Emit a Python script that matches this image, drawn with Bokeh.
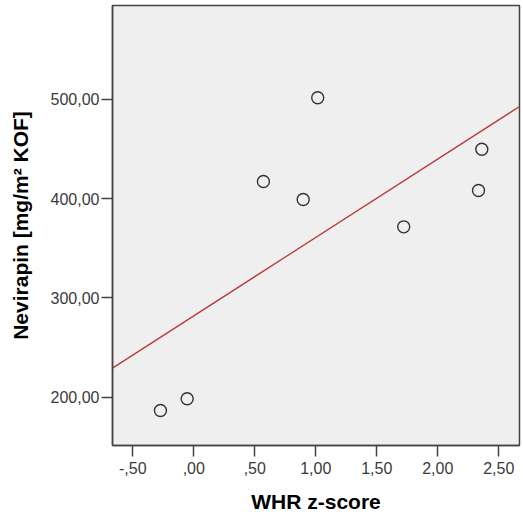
import numpy as np
from bokeh.plotting import figure
from bokeh.models import FixedTicker, ColumnDataSource, Range1d
from bokeh.embed import file_html
from bokeh.resources import INLINE

# Data
whr_z = [1.016, 2.361, 0.571, 2.334, 0.897, 1.721, -0.054, -0.273]
nevirapin = [501.4, 449.6, 417.1, 408.1, 399.0, 371.5, 198.5, 186.6]

x_ticks = [-0.5, 0.0, 0.5, 1.0, 1.5, 2.0, 2.5]
x_tick_labels = ["-,50", ",00", ",50", "1,00", "1,50", "2,00", "2,50"]
y_ticks = [200, 300, 400, 500]
y_tick_labels = ["200,00", "300,00", "400,00", "500,00"]

x_lo, x_hi = -0.666, 2.67
y_lo, y_hi = 151.4, 594.3

p = figure(width=523, height=515, output_backend="svg", toolbar_location=None,
           x_range=Range1d(x_lo, x_hi), y_range=Range1d(y_lo, y_hi),
           min_border_left=112, min_border_right=4, min_border_top=5,
           min_border_bottom=70)

p.background_fill_color = "#efefef"
p.border_fill_color = "white"
p.outline_line_color = "#444444"
p.outline_line_width = 1.5
p.grid.visible = False

# Linear fit line
slope, intercept = np.polyfit(whr_z, nevirapin, 1)
fx = [x_lo, x_hi]
fy = [intercept + slope * v for v in fx]
p.line(fx, fy, line_color="#b83a3a", line_width=1.3)

src = ColumnDataSource(dict(x=whr_z, y=nevirapin))
p.scatter("x", "y", source=src, size=12, marker="circle", fill_color=None,
          line_color="#333333", line_width=1.4)

FONT = "Liberation Sans"
for ax in (p.xaxis[0], p.yaxis[0]):
    ax.axis_line_color = "#444444"
    ax.axis_line_width = 1.5
    ax.major_tick_line_color = "#444444"
    ax.major_tick_line_width = 1.5
    ax.major_tick_in = 0
    ax.major_tick_out = 11
    ax.minor_tick_line_color = None
    ax.major_label_text_font = FONT
    ax.major_label_text_font_size = "16px"
    ax.major_label_text_color = "#3a3a3a"
    ax.axis_label_text_font = FONT
    ax.axis_label_text_font_style = "bold"
    ax.axis_label_text_font_size = "21px"
    ax.axis_label_text_color = "black"

p.xaxis.ticker = FixedTicker(ticks=x_ticks)
p.yaxis.ticker = FixedTicker(ticks=y_ticks)
p.xaxis.major_label_overrides = {t: l for t, l in zip(x_ticks, x_tick_labels)}
p.yaxis.major_label_overrides = {t: l for t, l in zip(y_ticks, y_tick_labels)}
p.xaxis.major_label_standoff = 5
p.yaxis.major_label_standoff = 2
p.xaxis.axis_label = "WHR z-score"
p.yaxis.axis_label = "Nevirapin [mg/m² KOF]"
p.xaxis.axis_label_standoff = 13
p.yaxis.axis_label_standoff = 16

open("out.html", "w").write(file_html(p, INLINE))
